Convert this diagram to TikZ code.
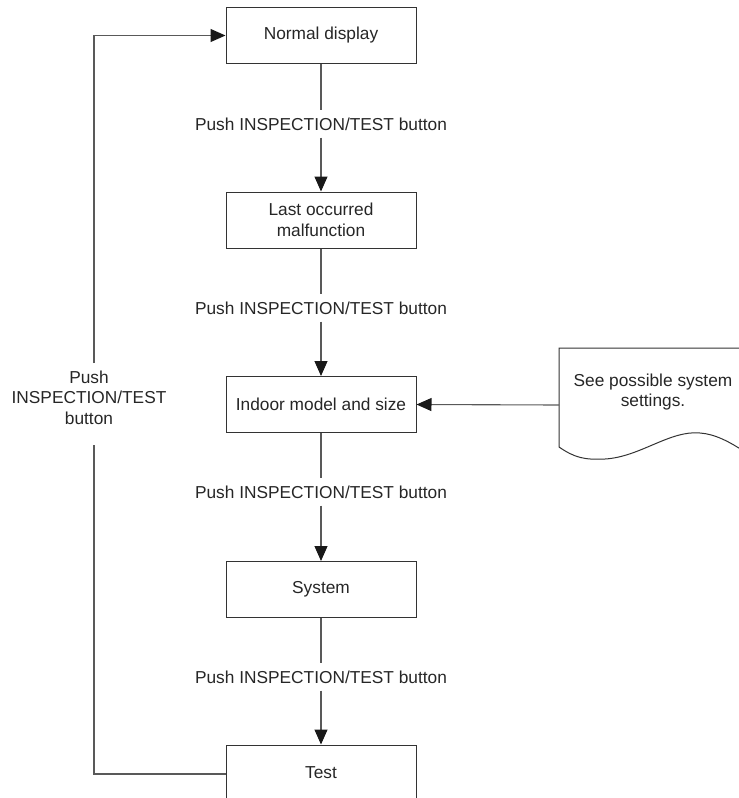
\documentclass[tikz,border=0pt]{standalone}
\usepackage{fontspec}
\setmainfont{Liberation Sans}
\usetikzlibrary{arrows.meta}
\begin{document}
\begin{tikzpicture}[x=1pt,y=-1pt,
  txt/.style={font=\fontsize{17.3}{20.5}\selectfont, text=black!85},
  box/.style={txt, draw=black!80, line width=1pt, minimum width=190pt, minimum height=56pt, inner sep=0pt, align=center},
  lbl/.style={txt, inner sep=0pt, minimum height=27pt, align=center},
  conn/.style={draw=black!65, line width=1.1pt},
  arr/.style={conn, -{Triangle[length=15pt,width=13pt,color=black!90]}}]
\useasboundingbox (0,0) rectangle (739,798);
\clip (0,0) rectangle (739,798);

% boxes
\node[box] (normal) at (321,35.5) {Normal display};
\node[box] (last) at (321,220) {Last occurred\\malfunction};
\node[box] (indoor) at (321,404.5) {Indoor model and size};
\node[box] (system) at (321,589.5) {System};
\node[box] (test) at (321,773) {Test};

% connector labels
\node[lbl] (l1) at (321,124) {Push INSPECTION/TEST button};
\node[lbl] (l2) at (321,308) {Push INSPECTION/TEST button};
\node[lbl] (l3) at (321,492) {Push INSPECTION/TEST button};
\node[lbl] (l4) at (321,677) {Push INSPECTION/TEST button};

\draw[conn] (normal.south) -- (l1.north);
\draw[arr] (l1.south) -- (last.north);
\draw[conn] (last.south) -- (l2.north);
\draw[arr] (l2.south) -- (indoor.north);
\draw[conn] (indoor.south) -- (l3.north);
\draw[arr] (l3.south) -- (system.north);
\draw[conn] (system.south) -- (l4.north);
\draw[arr] (l4.south) -- (test.north);

% return loop
\node[lbl, minimum height=0pt] (back) at (89,397.5) {Push\\INSPECTION/TEST\\button};
\coordinate (looptop) at (94,363);
\coordinate (loopbot) at (94,445);
\coordinate (loopcorner) at (94,774);
\draw[conn] (test.west |- loopcorner) -- (loopcorner) -- (loopbot);
\draw[arr] (looptop) |- (normal.west);

% document shape
\draw[black!80, line width=1pt] (745,348) -- (559,348) -- (559,447)
  .. controls (575,458) and (585,460) .. (605,459)
  .. controls (640,457) and (670,430) .. (700,433)
  .. controls (715,434) and (730,442) .. (745,452);
\node[txt, align=center] (doc) at (653,392) {See possible system\\settings.};
\coordinate (docw) at (559,405);
\draw[arr] (docw) -- (indoor.east);
\end{tikzpicture}
\end{document}
